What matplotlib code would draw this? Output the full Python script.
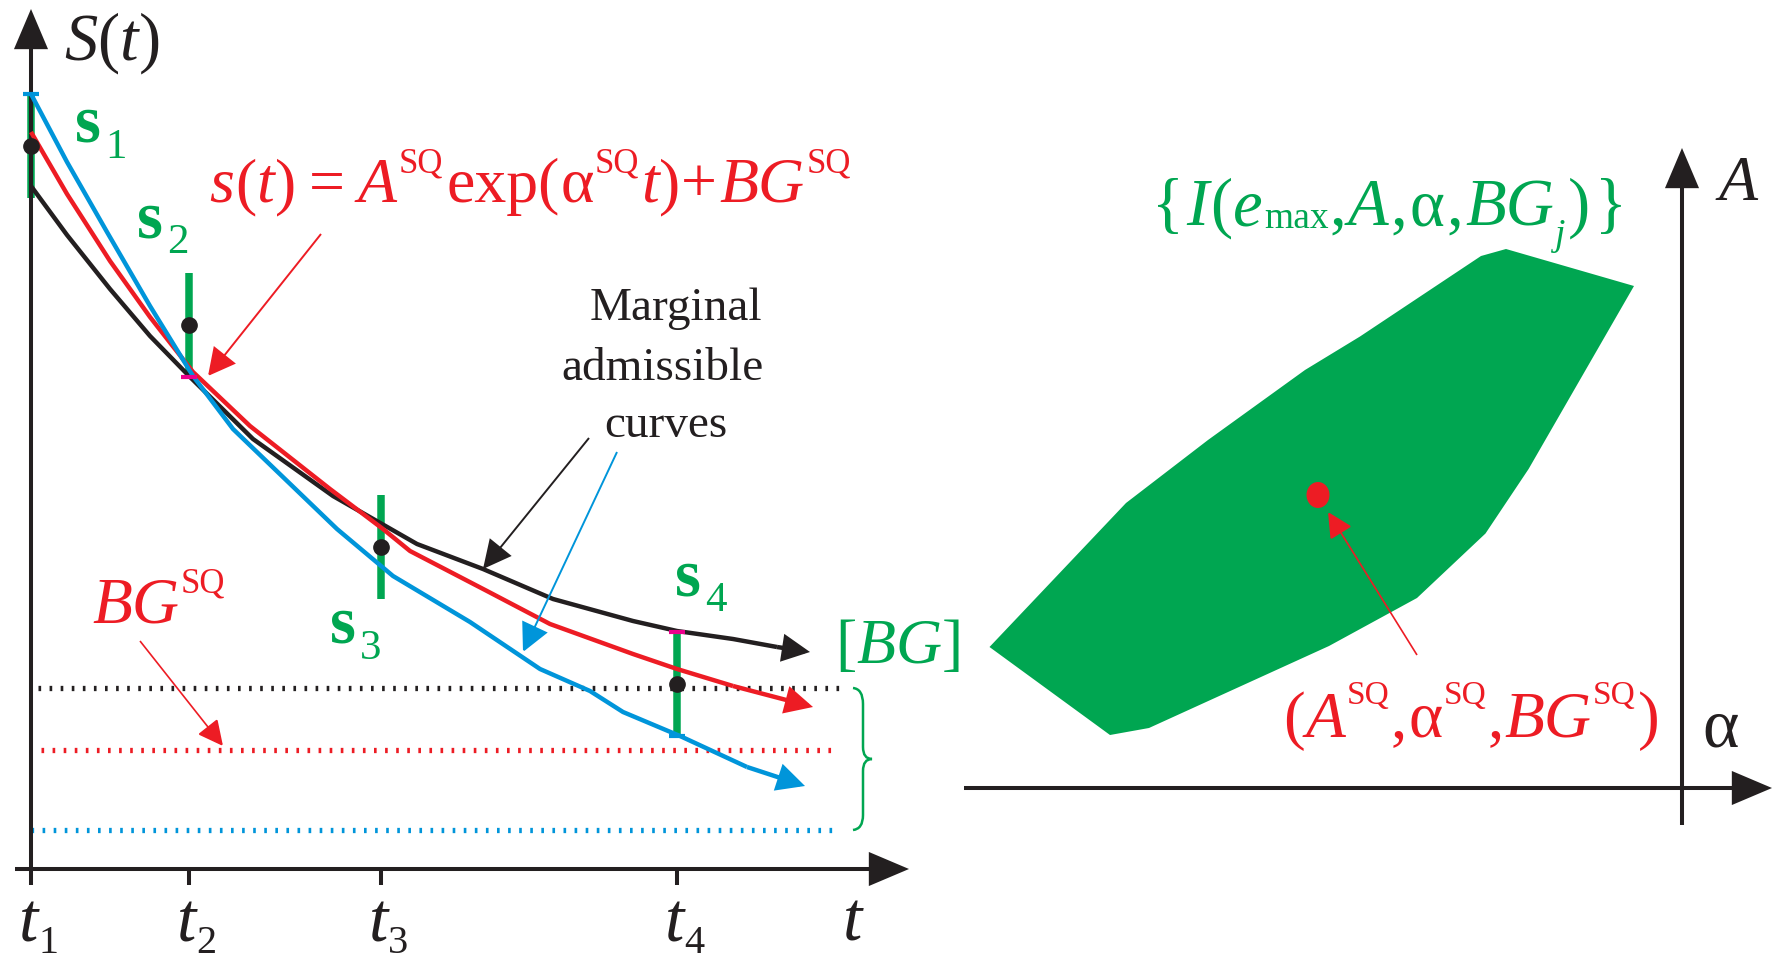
import matplotlib
matplotlib.use("Agg")
import matplotlib.pyplot as plt
from matplotlib.patches import Polygon, Ellipse, PathPatch
from matplotlib.path import Path

BLACK = "#231f20"
RED = "#ed1c24"
BLUE = "#0095da"
GREEN = "#00a651"
MAGENTA = "#ec008c"
SERIF = "Liberation Serif"

plt.rcParams["mathtext.fontset"] = "custom"
plt.rcParams["mathtext.rm"] = SERIF
plt.rcParams["mathtext.it"] = SERIF + ":italic"
plt.rcParams["mathtext.bf"] = SERIF + ":bold"

# ---- left panel: measured intensities s_k at times t_k and the admissible decay curves ----
t_obs = [0, 158, 350, 646]
t_names = ["1", "2", "3", "4"]
s_obs = [723, 544, 322, 185]
s_halfwidth = 52

black_t = [0, 36, 79, 119, 159, 222, 302, 386, 452, 522, 602, 646, 702, 746, 779]
black_s = [683, 634, 580, 533, 492, 430, 373, 325, 300, 270, 248, 238, 230, 222, 217]
red_t = [0, 36, 79, 119, 162, 219, 299, 352, 379, 456, 519, 602, 646, 702, 782]
red_s = [737, 675, 608, 552, 497, 443, 380, 340, 318, 278, 245, 215, 200, 183, 162]
blue_t = [0, 36, 76, 119, 162, 202, 306, 362, 439, 509, 559, 592, 649, 716, 774]
blue_s = [775, 707, 637, 563, 493, 440, 340, 293, 247, 200, 178, 157, 133, 102, 83]

# background levels of the three curves: upper bound, least-squares value, lower bound
bg_levels = [181, 119, 39]
bg_start = [7, 10, 0]
bg_end = [809, 802, 809]

# ---- right panel: admissible set in the (alpha, A) plane ----
region_alpha = [-692.5, -572, -533, -353, -265, -196.5, -153.4, -48,
                -176, -201, -322, -377, -474, -556]
region_A = [141, 53, 60, 142, 190, 254.5, 319, 502,
            539, 532, 451.5, 418, 348, 285]
alpha_sq = -364
A_sq = 293

fig = plt.figure(figsize=(17.75, 9.62), dpi=100)
axL = fig.add_axes([0, 0, 960 / 1775, 1])
axL.set_xlim(-31, 929)
axL.set_ylim(-92, 870)
axR = fig.add_axes([960 / 1775, 0, 815 / 1775, 1])
axR.set_xlim(-722, 93)
axR.set_ylim(-173, 789)
for ax in (axL, axR):
    ax.set_axis_off()

renderer = fig.canvas.get_renderer()
PT_PER_PX = 72 / 100


def arrow(ax, start, end, color, lw, head_len, head_w, z=3):
    ms = 10.0
    unit = ms / PT_PER_PX
    style = f"-|>,head_length={head_len / unit:.3f},head_width={head_w / 2 / unit:.3f}"
    ax.annotate("", xy=end, xytext=start, annotation_clip=False, zorder=z,
                arrowprops=dict(arrowstyle=style, color=color, lw=lw,
                                mutation_scale=ms, shrinkA=0, shrinkB=0,
                                joinstyle="miter", capstyle="butt"))


def rich(ax, x, y, runs, color):
    """Set runs of (text, style, size, raise, gap) one after another on a baseline."""
    for text, style, size, dy, gap in runs:
        x += gap
        t = ax.text(x, y + dy, text, color=color, fontsize=size, family=SERIF,
                    fontstyle="italic" if style == "it" else "normal",
                    fontweight="bold" if style == "bf" else "normal",
                    ha="left", va="baseline", zorder=6)
        x += t.get_window_extent(renderer).width


def label(ax, x, y, tex, size, color):
    ax.text(x, y, tex, color=color, fontsize=size, ha="left", va="baseline", zorder=6)


# axes of the left panel
arrow(axL, (-16, 0), (878, 0), BLACK, 2.9, 33, 28)
arrow(axL, (0, -16), (0, 860), BLACK, 2.9, 33, 28)
axL.vlines(t_obs[1:], -16, 0, colors=BLACK, lw=2.9, capstyle="butt")

# background levels
for lev, x0, x1, c in zip(bg_levels, bg_start, bg_end, [BLACK, RED, BLUE]):
    axL.plot([x0, x1], [lev, lev], color=c, lw=3.8, linestyle=(0, (0.5, 1.6)),
             dash_capstyle="butt", zorder=1)

# measurement intervals
lo = [s - s_halfwidth for s in s_obs]
hi = [s + s_halfwidth for s in s_obs]
axL.vlines(t_obs, lo, hi, colors=GREEN, lw=5.4, capstyle="butt", zorder=2)

# admissible curves
for tt, ss, c in [(black_t, black_s, BLACK), (red_t, red_s, RED), (blue_t, blue_s, BLUE)]:
    axL.plot(tt[:-1], ss[:-1], color=c, lw=3.2, solid_joinstyle="round",
             solid_capstyle="butt", zorder=3)
    arrow(axL, (tt[-2], ss[-2]), (tt[-1], ss[-1]), c, 3.2, 21, 21, z=3)

# points where the marginal curves touch the interval bounds
axL.hlines([hi[0], lo[3]], [t_obs[0] - 8, t_obs[3] - 8], [t_obs[0] + 8, t_obs[3] + 8],
           colors=BLUE, lw=3, zorder=4)
axL.hlines([lo[1], hi[3]], [t_obs[1] - 8, t_obs[3] - 8], [t_obs[1] + 8, t_obs[3] + 8],
           colors=MAGENTA, lw=3, zorder=4)

axL.plot(t_obs, s_obs, "o", color=BLACK, ms=11, zorder=5)

# brace spanning the background interval
top, bot = bg_levels[0], bg_levels[2]
mid = (top + bot) / 2
bx0, bx1, bx2 = 822, 832, 841
verts = [(bx0, top), (bx1, top - 1), (bx1, top - 16),
         (bx1, mid + 12),
         (bx1, mid), (bx2, mid),
         (bx1, mid), (bx1, mid - 12),
         (bx1, bot + 15),
         (bx1, bot + 1), (bx0, bot)]
codes = [Path.MOVETO, Path.CURVE3, Path.CURVE3, Path.LINETO, Path.CURVE3, Path.CURVE3,
         Path.CURVE3, Path.CURVE3, Path.LINETO, Path.CURVE3, Path.CURVE3]
axL.add_patch(PathPatch(Path(verts, codes), facecolor="none", edgecolor=GREEN, lw=1.8))

# tick labels and axis titles
for tx, name in zip(t_obs, t_names):
    rich(axL, tx - 12, -72, [("t", "it", 50, 0, 0), (name, "rm", 29, -11, 0)], BLACK)
label(axL, 811, -70, r"$t$", 50, BLACK)
label(axL, 33, 810, r"$S(t)$", 48, BLACK)

for (sx, sy), name in zip([(44, 728), (106, 633), (299, 227), (644, 275)], t_names):
    rich(axL, sx, sy, [("s", "bf", 48, 0, 0), (name, "rm", 31, -16, 4)], GREEN)

rich(axL, 178, 668, [("s", "it", 46, 0, 0), ("(", "rm", 46, 0, 1), ("t", "it", 46, 0, 0),
                     (")", "rm", 46, 0, 1), ("=", "rm", 46, 0, 13), ("A", "it", 46, 0, 13),
                     ("SQ", "rm", 25, 29, 2), ("exp(", "rm", 46, 0, 3), ("\u03b1", "rm", 46, 0, 1),
                     ("SQ", "rm", 25, 29, 1), ("t", "it", 46, 0, 2), (")", "rm", 46, 0, 0),
                     ("+", "rm", 46, 0, 1), ("BG", "it", 46, 0, 2), ("SQ", "rm", 25, 29, 2)], RED)

rich(axL, 61, 247, [("BG", "it", 47, 0, 0), ("SQ", "rm", 25, 30, 2)], RED)
label(axL, 804, 207, r"$[BG]$", 46, GREEN)

for line, lx, ly in zip(["Marginal", "admissible", "curves"], [645, 632, 635], [550, 490, 433]):
    axL.text(lx, ly, line, family=SERIF, fontsize=34, color=BLACK, ha="center", va="baseline")

arrow(axL, (290, 635), (177, 493), RED, 1.4, 24, 25)
arrow(axL, (558, 431), (452, 300), BLACK, 1.4, 25, 25)
arrow(axL, (586, 417), (492, 217), BLUE, 1.4, 25, 25)
arrow(axL, (109, 228), (192, 123), RED, 1.2, 22, 22)

# ---- right panel ----
arrow(axR, (-718, 0), (90, 0), BLACK, 2.9, 33, 28)
arrow(axR, (0, -37), (0, 640), BLACK, 2.9, 33, 28)

axR.add_patch(Polygon(list(zip(region_alpha, region_A)), closed=True,
                      facecolor=GREEN, edgecolor="none", zorder=1))
axR.add_patch(Ellipse((alpha_sq, A_sq), 23, 26, facecolor=RED, edgecolor="none", zorder=4))
arrow(axR, (-265, 133), (alpha_sq + 10, A_sq - 17), RED, 1.2, 22, 22)

label(axR, 33, 589, r"$A$", 46, BLACK)
label(axR, 20, 42, r"$\mathrm{\alpha}$", 50, BLACK)

rich(axR, -399, 52, [("(", "rm", 47, 0, 0), ("A", "it", 47, 0, 1), ("SQ", "rm", 24, 33, 1),
                     (",", "rm", 47, 0, 1), ("\u03b1", "rm", 47, 0, 2), ("SQ", "rm", 24, 33, 1),
                     (",", "rm", 47, 0, 1), ("BG", "it", 47, 0, 1), ("SQ", "rm", 24, 33, 1),
                     (")", "rm", 47, 0, 2)], RED)

rich(axR, -530, 564, [("{", "rm", 48, 0, 0), ("I", "it", 48, 0, 2), ("(", "rm", 48, 0, 2),
                      ("e", "it", 48, 0, 1), ("max", "rm", 27, -3, 1), (",", "rm", 48, 0, 1),
                      ("A", "it", 48, 0, 1), (",", "rm", 48, 0, 2), ("\u03b1", "rm", 48, 0, 3),
                      (",", "rm", 48, 0, 2), ("BG", "it", 48, 0, 2), ("j", "it", 27, -20, 0),
                      (")", "rm", 48, 0, 3), ("}", "rm", 48, 0, 5)], GREEN)

fig.savefig("out.png", dpi=100)
